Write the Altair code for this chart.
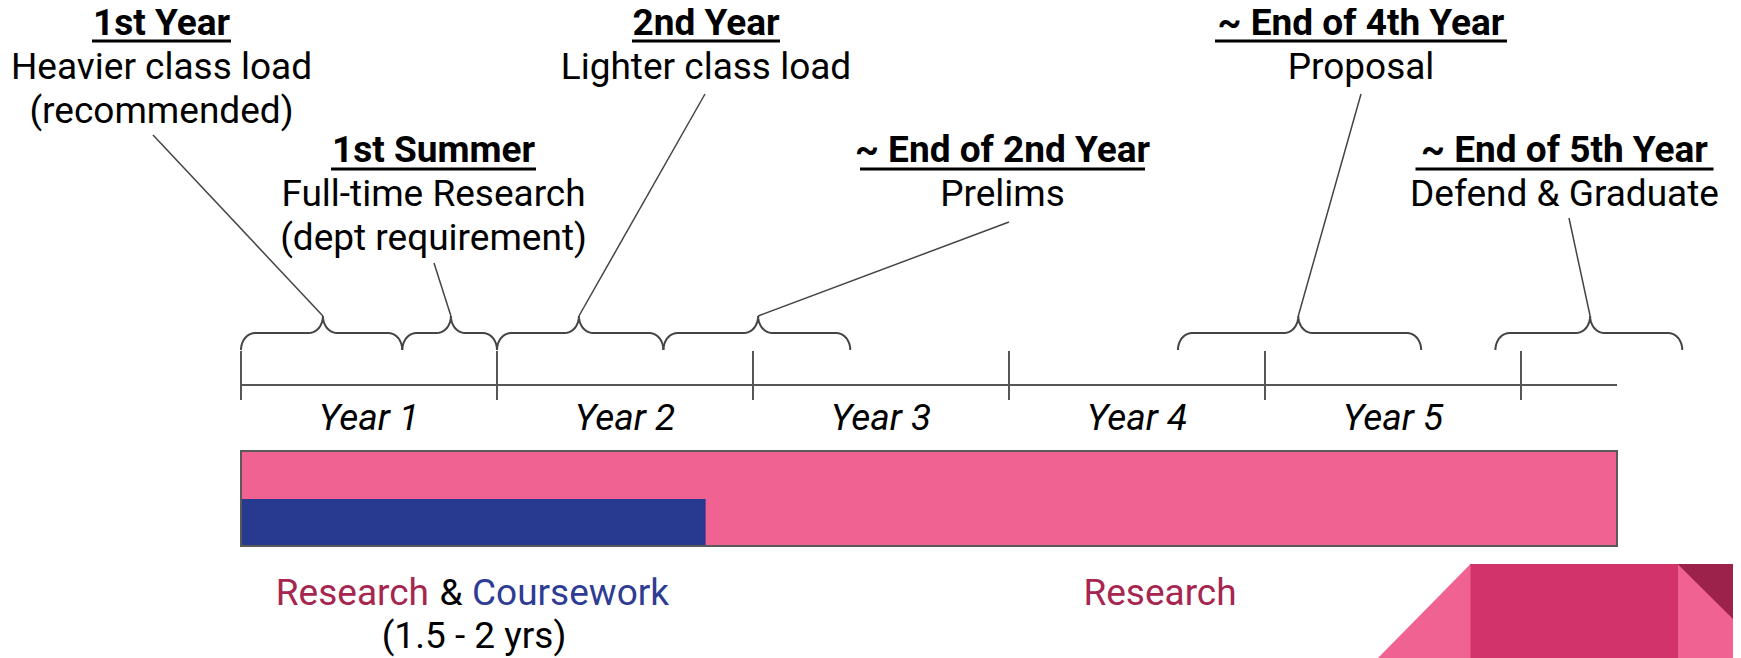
import math
import altair as alt
import pandas as pd

# ---------------- data ----------------
year_labels = ["Year 1", "Year 2", "Year 3", "Year 4", "Year 5"]
year_label_pos = [0.5, 1.5, 2.5, 3.5, 4.5]
year_ticks = [0, 1, 2, 3, 4, 5]
program_end = 5.375      # length of the timeline bar (years)
coursework_end = 1.815   # coursework phase (1.5 - 2 yrs)

titles = ["1st Year", "1st Summer", "2nd Year",
          "~ End of 2nd Year", "~ End of 4th Year", "~ End of 5th Year"]
details = [["Heavier class load", "(recommended)"],
           ["Full-time Research", "(dept requirement)"],
           ["Lighter class load"],
           ["Prelims"],
           ["Proposal"],
           ["Defend & Graduate"]]
brace_start = [0.0, 0.63, 1.0, 1.65, 3.66, 4.90]
brace_end = [0.63, 1.0, 1.65, 2.38, 4.61, 5.63]
brace_tip = [0.32, 0.82, 1.32, 2.02, 4.13, 5.27]

# ---------------- layout (page pixels) ----------------
W, H = 1725, 650
ORIGIN_PX = 241.0
PX_PER_YEAR = 256.0


def yr(px):
    return (px - ORIGIN_PX) / PX_PER_YEAR


FONT = "Roboto"
FS = 37
INK = "#444444"
PINK = "#F06292"
PINK_DARK = "#D1336A"
MAROON = "#9C214B"
NAVY = "#283A8F"
RESEARCH_TXT = "#A6264F"
COURSE_TXT = "#2E3C94"

text_cx = [161.5, 433.5, 706, 1002.5, 1361, 1564.5]
text_row = [0, 1, 0, 1, 0, 1]
underline_w = [139, 205, 148, 285, 292, 298]
leader_top = [(153, 135), (434, 263), (705, 94), (1009, 222), (1361, 94), (1569, 218)]
rows = {0: dict(title=35, ul=41, lines=[79, 123]),
        1: dict(title=162, ul=169, lines=[206, 250])}

AXIS_Y, TICK_Y0, TICK_Y1 = 385, 351, 400
LABEL_Y = 430
BAR_Y0, BAR_YM, BAR_Y1 = 451, 499, 546
BR_END, BR_MID, BR_TIP = 350, 333, 316
BR_RX, BR_RY = 14, 17

xs = alt.Scale(domain=[yr(8), yr(8 + W)], nice=False, zero=False)
ys = alt.Scale(domain=[8, 8 + H], reverse=True, nice=False, zero=False)


def X(f="x"):
    return alt.X(f"{f}:Q", scale=xs, axis=None)


def Y(f="y"):
    return alt.Y(f"{f}:Q", scale=ys, axis=None)


layers = []

# ---- decorative corner shapes ----
decor_rects = pd.DataFrame([
    dict(x=yr(1470), x2=yr(1678), y=564, y2=660, c=PINK_DARK),
    dict(x=yr(1678), x2=yr(1745), y=564, y2=660, c=PINK),
])
layers.append(alt.Chart(decor_rects).mark_rect().encode(
    x=X(), x2="x2:Q", y=Y(), y2="y2:Q", color=alt.Color("c:N", scale=None)))
tri_left = pd.DataFrame(dict(x=[yr(1376), yr(1470.5)], y=[660, 564], y2=[660, 660]))
layers.append(alt.Chart(tri_left).mark_area(color=PINK).encode(x=X(), y=Y(), y2="y2:Q"))
tri_right = pd.DataFrame(dict(x=[yr(1677.5), yr(1745)], y=[564, 564], y2=[564, 631]))
layers.append(alt.Chart(tri_right).mark_area(color=MAROON).encode(x=X(), y=Y(), y2="y2:Q"))

# ---- timeline bar ----
bar = pd.DataFrame([dict(x=0, x2=program_end, y=BAR_Y0, y2=BAR_Y1)])
layers.append(alt.Chart(bar).mark_rect(color=PINK).encode(x=X(), x2="x2:Q", y=Y(), y2="y2:Q"))
course = pd.DataFrame([dict(x=0, x2=coursework_end, y=BAR_YM, y2=BAR_Y1)])
layers.append(alt.Chart(course).mark_rect(color=NAVY).encode(x=X(), x2="x2:Q", y=Y(), y2="y2:Q"))
layers.append(alt.Chart(bar).mark_rect(fillOpacity=0, stroke="#5a5a5a", strokeWidth=2).encode(
    x=X(), x2="x2:Q", y=Y(), y2="y2:Q"))

# ---- year axis ----
axis_df = pd.DataFrame([dict(x=0, x2=program_end, y=AXIS_Y)])
layers.append(alt.Chart(axis_df).mark_rule(color="#555555", strokeWidth=2).encode(
    x=X(), x2="x2:Q", y=Y()))
ticks_df = pd.DataFrame(dict(x=year_ticks, y=TICK_Y0, y2=TICK_Y1))
layers.append(alt.Chart(ticks_df).mark_rule(color="#555555", strokeWidth=2).encode(
    x=X(), y=Y(), y2="y2:Q"))
labels_df = pd.DataFrame(dict(x=year_label_pos, y=LABEL_Y, t=year_labels))
layers.append(alt.Chart(labels_df).mark_text(
    font=FONT, fontSize=FS, fontStyle="italic", align="center", baseline="alphabetic",
    color="#000000").encode(x=X(), y=Y(), text="t:N"))


# ---- braces ----
def arc(cx, cy, a0, a1, n=10):
    pts = []
    for k in range(n + 1):
        a = math.radians(a0 + (a1 - a0) * k / n)
        pts.append((cx + BR_RX * math.cos(a), cy + BR_RY * math.sin(a)))
    return pts


brace_rows = []
for b, (s, e, m) in enumerate(zip(brace_start, brace_end, brace_tip)):
    x0 = ORIGIN_PX + s * PX_PER_YEAR
    x1 = ORIGIN_PX + e * PX_PER_YEAR
    xm = ORIGIN_PX + m * PX_PER_YEAR
    pts = []
    pts += arc(x0 + BR_RX, BR_END, 180, 270)
    pts += arc(xm - BR_RX, BR_TIP, 90, 0)
    pts += arc(xm + BR_RX, BR_TIP, 180, 90)
    pts += arc(x1 - BR_RX, BR_END, 270, 360)
    for i, (px, py) in enumerate(pts):
        brace_rows.append(dict(b=b, i=i, x=yr(px), y=py))
braces_df = pd.DataFrame(brace_rows)
layers.append(alt.Chart(braces_df).mark_line(color=INK, strokeWidth=2).encode(
    x=X(), y=Y(), detail="b:N", order="i:Q"))

# ---- leader lines ----
leaders = pd.DataFrame([dict(x=m, y=BR_TIP, x2=yr(lx), y2=ly)
                        for m, (lx, ly) in zip(brace_tip, leader_top)])
layers.append(alt.Chart(leaders).mark_rule(color=INK, strokeWidth=1.5).encode(
    x=X(), y=Y(), x2="x2:Q", y2="y2:Q"))

# ---- annotation texts ----
t_rows, u_rows, d_rows = [], [], []
for title, lines, cx, r, w in zip(titles, details, text_cx, text_row, underline_w):
    t_rows.append(dict(x=yr(cx), y=rows[r]["title"], t=title))
    u_rows.append(dict(x=yr(cx - w / 2), x2=yr(cx + w / 2), y=rows[r]["ul"]))
    for ln, yy in zip(lines, rows[r]["lines"]):
        d_rows.append(dict(x=yr(cx), y=yy, t=ln))
layers.append(alt.Chart(pd.DataFrame(t_rows)).mark_text(
    font=FONT, fontSize=FS, fontWeight="bold", align="center", baseline="alphabetic",
    color="#000000").encode(x=X(), y=Y(), text="t:N"))
layers.append(alt.Chart(pd.DataFrame(u_rows)).mark_rule(color="#000000", strokeWidth=3).encode(
    x=X(), x2="x2:Q", y=Y()))
layers.append(alt.Chart(pd.DataFrame(d_rows)).mark_text(
    font=FONT, fontSize=FS, align="center", baseline="alphabetic",
    color="#000000").encode(x=X(), y=Y(), text="t:N"))

# ---- phase labels under the bar ----
phase_df = pd.DataFrame([
    dict(x=yr(429), y=605, t="Research", c=RESEARCH_TXT, a="right"),
    dict(x=yr(451), y=605, t="&", c="#000000", a="center"),
    dict(x=yr(472), y=605, t="Coursework", c=COURSE_TXT, a="left"),
    dict(x=yr(474), y=648, t="(1.5 - 2 yrs)", c="#000000", a="center"),
    dict(x=yr(1160), y=605, t="Research", c=RESEARCH_TXT, a="center"),
])
for a in ["left", "center", "right"]:
    sub = phase_df[phase_df.a == a]
    layers.append(alt.Chart(sub).mark_text(
        font=FONT, fontSize=FS, align=a, baseline="alphabetic").encode(
        x=X(), y=Y(), text="t:N", color=alt.Color("c:N", scale=None)))

chart = alt.layer(*layers).properties(
    width=W, height=H, padding=0,
    autosize=alt.AutoSizeParams(type="none"),
    background="#ffffff",
).configure_view(stroke=None)

chart.save("out.html", embed_options={"renderer": "svg", "actions": False})
